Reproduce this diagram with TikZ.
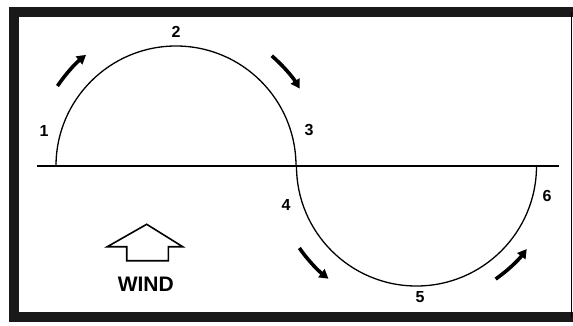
\documentclass[tikz,border=0pt]{standalone}
\usepackage{fontspec}
\setmainfont{Liberation Sans}
\usetikzlibrary{arrows.meta, calc}
\tikzset{
  frame/.style={line width=10pt, color=black!90},
  wave/.style={line width=1.3pt},
  flow/.style={line width=3.6pt, -{Triangle[length=9pt, width=10pt]}},
  point/.style={font=\bfseries\fontsize{16}{16}\selectfont},
  windlabel/.style={font=\bfseries\fontsize{21}{21}\selectfont}
}

\begin{document}
\begin{tikzpicture}[x=1pt, y=1pt]
  \useasboundingbox (0,0) rectangle (573,325);

  % Marco
  \draw[frame] (580,313.5) -- (14,313.5) -- (14,8) -- (580,8);
  \draw[line width=1.2pt] (571.5,313.5) -- (571.5,8);

  % Centros
  \coordinate (up) at (176,159);
  \coordinate (down) at (416.5,159);

  % Eje y trayectoria
  \draw[wave] (37,159) -- (559,159);
  \draw[wave] (56,159) arc[start angle=180, end angle=0, radius=120];
  \draw[wave] (296.5,159) arc[start angle=180, end angle=360, radius=120];

  % Puntos
  \node[point] (p1) at (44,194) {1};
  \node[point] (p2) at (176,293) {2};
  \node[point] (p3) at (309,195) {3};
  \node[point] (p4) at (286,120) {4};
  \node[point] (p5) at (420,28) {5};
  \node[point] (p6) at (547,129) {6};

  % Flechas de giro
  \draw[flow] ($(up)+(146:143)$) arc[start angle=146, end angle=129, radius=143];
  \draw[flow] ($(up)+(49:146)$) arc[start angle=49, end angle=32, radius=146];
  \draw[flow] ($(down)+(215:143)$) arc[start angle=215, end angle=232, radius=143];
  \draw[flow] ($(down)+(305:138)$) arc[start angle=305, end angle=323, radius=138];

  % Viento
  \draw[line width=1.6pt, line join=miter] (146.7,100.7) -- (182.7,78.3) -- (168.3,78.3)
    -- (168.3,64.3) -- (126.7,64.3) -- (126.7,78.3) -- (107.3,78.3) -- cycle;
  \node[windlabel] (wind) at (145.8,40.7) {WIND};

\end{tikzpicture}
\end{document}
